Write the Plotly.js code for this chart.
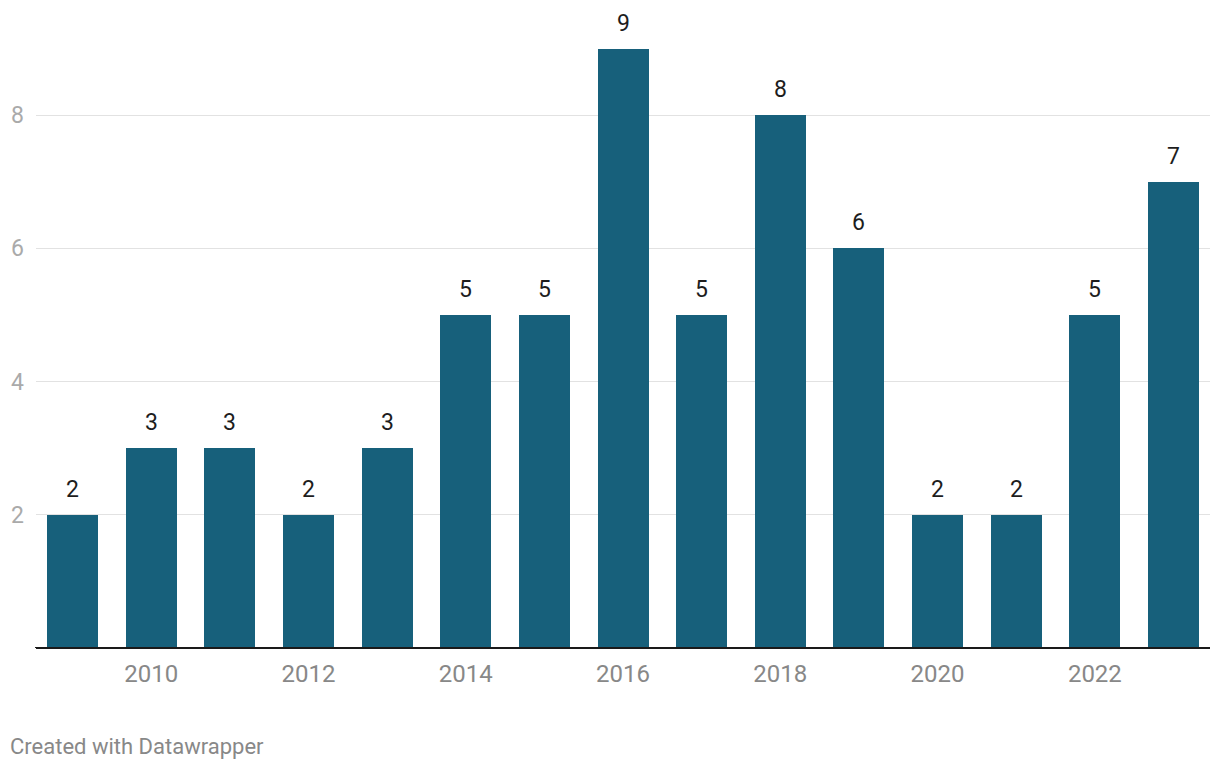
<!DOCTYPE html>
<html>
<head>
<meta charset="utf-8">
<script src="https://cdn.plot.ly/plotly-3.0.1.min.js"></script>
<style>
html,body{margin:0;padding:0;background:#fff;}
#chart{width:1220px;height:770px;}
</style>
</head>
<body>
<div id="chart"></div>
<script>
const years = [2009,2010,2011,2012,2013,2014,2015,2016,2017,2018,2019,2020,2021,2022,2023];
const values = [2,3,3,2,3,5,5,9,5,8,6,2,2,5,7];
const yTicks = [2,4,6,8];
const xTicks = [2010,2012,2014,2016,2018,2020,2022];
const credit = "Created with Datawrapper";

const trace = {
  type: 'bar',
  x: years,
  y: values,
  width: 0.6486,
  marker: {color: '#17607b'},
  hoverinfo: 'none'
};

const valueLabels = years.map((yr, i) => ({
  x: yr, y: values[i], xref: 'x', yref: 'y',
  text: String(values[i]),
  showarrow: false,
  xanchor: 'center', yanchor: 'bottom',
  yshift: 10,
  font: {family: 'Roboto, sans-serif', size: 23, color: '#1d1d1d'}
}));

const layout = {
  width: 1220,
  height: 770,
  margin: {l: 36, r: 10, t: 20, b: 122},
  paper_bgcolor: '#fff',
  plot_bgcolor: '#fff',
  showlegend: false,
  bargap: 0,
  xaxis: {
    range: [2008.536, 2023.464],
    tickvals: xTicks,
    ticktext: xTicks.map(String),
    showgrid: false,
    zeroline: false,
    showline: false,
    ticks: '',
    tickfont: {family: 'Roboto, sans-serif', size: 24, color: '#888888'},
    ticklabelstandoff: 9,
    fixedrange: true
  },
  yaxis: {
    range: [0, 9.43],
    tickvals: yTicks,
    ticktext: yTicks.map(String),
    showgrid: true,
    gridcolor: '#e2e2e2',
    gridwidth: 1,
    zeroline: true,
    zerolinecolor: '#1a1a1a',
    zerolinewidth: 2,
    showline: false,
    ticks: '',
    tickfont: {family: 'Roboto, sans-serif', size: 23, color: '#aaaaaa'},
    ticklabelstandoff: 11,
    fixedrange: true
  },
  annotations: valueLabels.concat([{
    text: credit,
    xref: 'paper', yref: 'paper',
    x: -28/1174, y: -(746-648)/628,
    xanchor: 'left', yanchor: 'middle',
    showarrow: false,
    font: {family: 'Roboto, sans-serif', size: 22, color: '#888888'}
  }]),
  shapes: [{
    type: 'line', xref: 'paper', yref: 'y',
    x0: -1/1174, x1: 1, y0: 0, y1: 0,
    line: {color: '#1a1a1a', width: 2}
  }]
};

Plotly.newPlot('chart', [trace], layout, {displayModeBar: false, staticPlot: true});
</script>
</body>
</html>
